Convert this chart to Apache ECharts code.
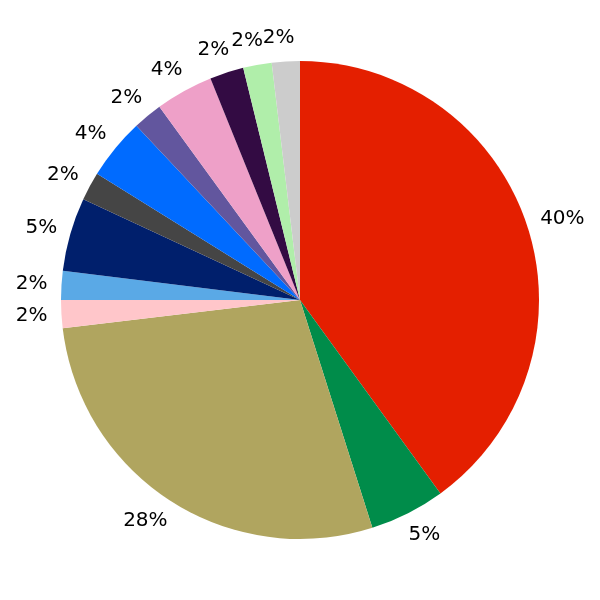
<!DOCTYPE html>
<html>
<head>
<meta charset="utf-8">
<script src="https://cdn.jsdelivr.net/npm/echarts@6/dist/echarts.min.js"></script>
<style>html,body{margin:0;padding:0;background:#fff;}#c{width:600px;height:600px;}</style>
</head>
<body>
<div id="c"></div>
<script>
const categories = ['A','B','C','D','E','F','G','H','I','J','K','L','M'];
const values = [40.0, 5.1, 28.0, 1.89, 1.96, 4.97, 1.92, 4.15, 1.99, 3.90, 2.29, 1.93, 1.89];
const labels = ['40%','5%','28%','2%','2%','5%','2%','4%','2%','4%','2%','2%','2%'];
const colors = ['#e41f00','#008c4a','#b0a55f','#ffc6ca','#5aa9e6','#001f6c','#454545','#006bff','#62569e','#eea0c8','#330b43','#b0eeaa','#cccccc'];

const chart = echarts.init(document.getElementById('c'), null, {renderer:'canvas'});
chart.setOption({
  animation: false,
  backgroundColor: '#ffffff',
  series: [{
    type: 'pie',
    center: [300, 300],
    radius: 239,
    startAngle: 90,
    clockwise: true,
    avoidLabelOverlap: false,
    labelLayout: {hideOverlap: false},
    emphasis: {disabled: true},
    data: categories.map((c, i) => ({name: c, value: values[i], itemStyle: {color: colors[i]}, label: {formatter: labels[i]}})),
    itemStyle: {borderWidth: 0},
    label: {
      show: true,
      position: 'outside',
      fontFamily: 'DejaVu Sans',
      fontSize: 20,
      color: '#000',
      distanceToLabelLine: -10
    },
    labelLine: {show: false, length: 24, length2: 0}
  }]
});
</script>
</body>
</html>
